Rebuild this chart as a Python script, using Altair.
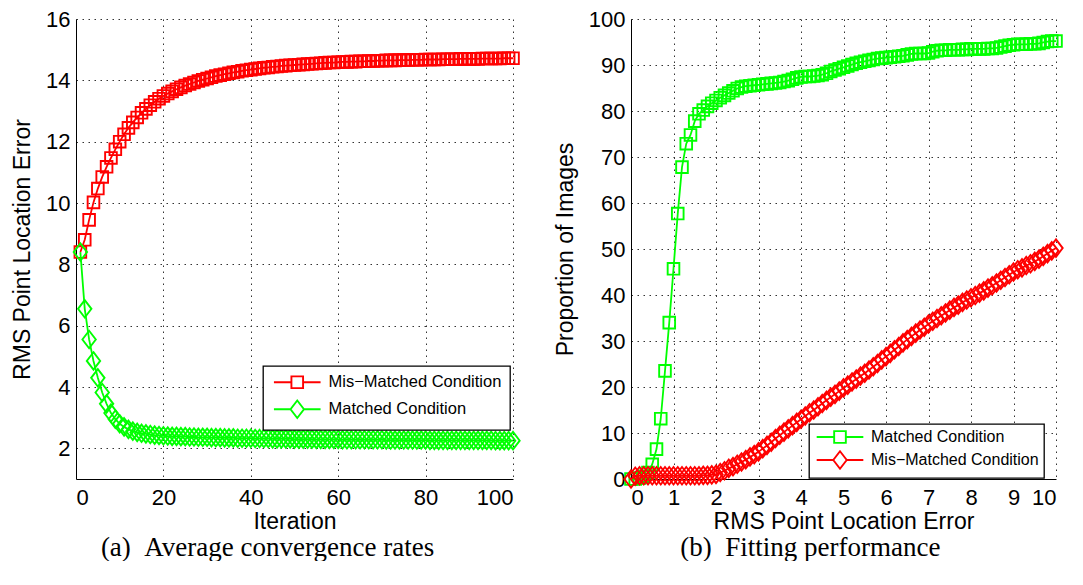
import altair as alt
import pandas as pd

# ---------------- data ----------------
iterations = list(range(1, 101))

mis_matched_a = [
    8.40, 8.80, 9.45, 10.02, 10.47, 10.85, 11.18, 11.47, 11.75, 12.00,
    12.24, 12.45, 12.63, 12.79, 12.94, 13.07, 13.19, 13.30, 13.40, 13.49,
    13.57, 13.64, 13.71, 13.77, 13.83, 13.88, 13.93, 13.98, 14.02, 14.06,
    14.10, 14.14, 14.17, 14.20, 14.23, 14.26, 14.28, 14.31, 14.33, 14.35,
    14.37, 14.39, 14.41, 14.42, 14.44, 14.45, 14.47, 14.48, 14.49, 14.50,
    14.51, 14.52, 14.53, 14.54, 14.55, 14.56, 14.57, 14.58, 14.58, 14.59,
    14.60, 14.60, 14.61, 14.61, 14.62, 14.62, 14.63, 14.63, 14.64, 14.64,
    14.65, 14.65, 14.65, 14.66, 14.66, 14.66, 14.67, 14.67, 14.67, 14.68,
    14.68, 14.68, 14.68, 14.69, 14.69, 14.69, 14.69, 14.70, 14.70, 14.70,
    14.70, 14.70, 14.71, 14.71, 14.71, 14.71, 14.71, 14.72, 14.72, 14.72,
]

matched_a = [
    8.40, 6.55, 5.55, 4.85, 4.30, 3.82, 3.45, 3.15, 2.95, 2.80,
    2.70, 2.62, 2.56, 2.52, 2.49, 2.47, 2.45, 2.43, 2.42, 2.41,
    2.40, 2.39, 2.39, 2.38, 2.38, 2.37, 2.37, 2.36, 2.36, 2.36,
    2.35, 2.35, 2.35, 2.34, 2.34, 2.34, 2.33, 2.33, 2.33, 2.33,
    2.32, 2.32, 2.32, 2.32, 2.31, 2.31, 2.31, 2.31, 2.31, 2.30,
    2.30, 2.30, 2.30, 2.30, 2.29, 2.29, 2.29, 2.29, 2.29, 2.29,
    2.28, 2.28, 2.28, 2.28, 2.28, 2.28, 2.28, 2.28, 2.28, 2.28,
    2.27, 2.27, 2.27, 2.27, 2.27, 2.27, 2.27, 2.27, 2.27, 2.27,
    2.26, 2.26, 2.26, 2.26, 2.26, 2.26, 2.26, 2.26, 2.26, 2.26,
    2.26, 2.26, 2.26, 2.26, 2.26, 2.25, 2.25, 2.25, 2.25, 2.25,
]

rms_error_b = [
    0.0, 0.1, 0.2, 0.3, 0.4, 0.5, 0.6, 0.7, 0.8, 0.9,
    1.0, 1.1, 1.2, 1.3, 1.4, 1.5, 1.6, 1.7, 1.8, 1.9,
    2.0, 2.1, 2.2, 2.3, 2.4, 2.5, 2.6, 2.7, 2.8, 2.9,
    3.0, 3.1, 3.2, 3.3, 3.4, 3.5, 3.6, 3.7, 3.8, 3.9,
    4.0, 4.1, 4.2, 4.3, 4.4, 4.5, 4.6, 4.7, 4.8, 4.9,
    5.0, 5.1, 5.2, 5.3, 5.4, 5.5, 5.6, 5.7, 5.8, 5.9,
    6.0, 6.1, 6.2, 6.3, 6.4, 6.5, 6.6, 6.7, 6.8, 6.9,
    7.0, 7.1, 7.2, 7.3, 7.4, 7.5, 7.6, 7.7, 7.8, 7.9,
    8.0, 8.1, 8.2, 8.3, 8.4, 8.5, 8.6, 8.7, 8.8, 8.9,
    9.0, 9.1, 9.2, 9.3, 9.4, 9.5, 9.6, 9.7, 9.8, 9.9,
    10.0,
]

matched_b = [
    0.0, 0.0, 0.2, 0.6, 1.4, 3.2, 6.5, 13.1, 23.5, 34.0,
    45.7, 57.7, 67.8, 72.9, 74.8, 77.8, 79.4, 80.2, 81.0, 81.7,
    82.3, 82.9, 83.4, 83.9, 84.4, 84.9, 85.2, 85.4, 85.5, 85.6,
    85.7, 85.8, 85.9, 86.0, 86.1, 86.2, 86.4, 86.6, 86.9, 87.2,
    87.4, 87.5, 87.5, 87.6, 87.7, 87.9, 88.2, 88.6, 88.9, 89.2,
    89.5, 89.8, 90.1, 90.4, 90.6, 90.8, 91.0, 91.2, 91.4, 91.5,
    91.6, 91.7, 91.8, 91.9, 92.0, 92.2, 92.4, 92.5, 92.5, 92.5,
    92.6, 92.9, 93.1, 93.2, 93.2, 93.3, 93.3, 93.3, 93.4, 93.4,
    93.5, 93.5, 93.5, 93.5, 93.6, 93.6, 93.7, 93.9, 94.1, 94.3,
    94.4, 94.5, 94.5, 94.5, 94.6, 94.6, 94.7, 94.9, 95.1, 95.2,
    95.2,
]

mis_matched_b = [
    0.0, 0.6, 0.7, 0.7, 0.7, 0.7, 0.7, 0.7, 0.7, 0.7,
    0.7, 0.7, 0.7, 0.7, 0.7, 0.7, 0.7, 0.8, 0.8, 0.9,
    1.0, 1.4, 1.8, 2.3, 2.7, 3.2, 3.7, 4.2, 4.8, 5.3,
    5.9, 6.6, 7.3, 8.0, 8.8, 9.5, 10.2, 10.9, 11.6, 12.3,
    13.0, 13.7, 14.4, 15.0, 15.7, 16.4, 17.1, 17.8, 18.4, 19.1,
    19.8, 20.4, 21.1, 21.7, 22.4, 23.0, 23.7, 24.4, 25.1, 25.9,
    26.6, 27.3, 28.1, 28.8, 29.6, 30.3, 31.0, 31.7, 32.4, 33.0,
    33.7, 34.3, 34.9, 35.5, 36.1, 36.7, 37.3, 37.8, 38.4, 38.9,
    39.4, 39.9, 40.4, 40.9, 41.5, 42.0, 42.6, 43.2, 43.8, 44.4,
    45.0, 45.5, 45.9, 46.4, 46.8, 47.3, 47.8, 48.4, 49.0, 49.6,
    50.2,
]

MIS = "Mis\u2212Matched Condition"
MAT = "Matched Condition"

x_ticks_a = [0, 20, 40, 60, 80, 100]
y_ticks_a = [2, 4, 6, 8, 10, 12, 14, 16]
x_ticks_b = [0, 1, 2, 3, 4, 5, 6, 7, 8, 9, 10]
y_ticks_b = [0, 10, 20, 30, 40, 50, 60, 70, 80, 90, 100]

RED = "#ff0000"
GREEN = "#00ff00"
SANS = "Liberation Sans"
SERIF = "Liberation Serif"

# marker shapes (custom paths scaled by sqrt(size)/2)
DIAMOND = "M0,-1.5L1.15,0L0,1.5L-1.15,0Z"
SQUARE_LEG = "M-4.0,0L-1,0M1,0L4.0,0M-1,-1L1,-1L1,1L-1,1Z"
DIAMOND_LEG = "M-4.0,0L-1.15,0M1.15,0L4.0,0M0,-1.5L1.15,0L0,1.5L-1.15,0Z"
MSIZE = 136

df_a = pd.DataFrame({
    "x": iterations * 2,
    "y": mis_matched_a + matched_a,
    "series": [MIS] * len(iterations) + [MAT] * len(iterations),
})
df_b = pd.DataFrame({
    "x": rms_error_b * 2,
    "y": matched_b + mis_matched_b,
    "series": [MAT] * len(rms_error_b) + [MIS] * len(rms_error_b),
})


def axis(values, title, title_pad, orient):
    return alt.Axis(
        values=values, title=title, grid=True, ticks=False, tickSize=0,
        labelFont=SANS, labelFontSize=22, labelColor="black",
        labelPadding=6 if orient == "left" else 8,
        titleFont=SANS, titleFontSize=23, titleFontWeight="normal",
        titleColor="black", titlePadding=title_pad,
        domainColor="black", domainWidth=1,
        gridColor="#333333", gridDash=[1.5, 4.5], gridWidth=1, gridOpacity=1,
        labelOverlap=False,
    )


def panel(df, order, colors, shapes, leg_shapes, xdom, ydom, xt, yt, xtitle, ytitle,
          w, h, leg_x, leg_y, leg_font, leg_rowpad, leg_pad, caption):
    xenc = alt.X("x:Q", scale=alt.Scale(domain=xdom, nice=False, zero=False),
                 axis=axis(xt, xtitle, 2, "bottom"))
    yenc = alt.Y("y:Q", scale=alt.Scale(domain=ydom, nice=False, zero=False),
                 axis=axis(yt, ytitle, 11, "left"))
    layers = []
    for name, col, shp in zip(order, colors, shapes):
        base = alt.Chart(df).transform_filter(alt.datum.series == name).encode(x=xenc, y=yenc)
        layers.append(base.mark_line(color=col, strokeWidth=1.8))
        layers.append(base.mark_point(color=col, shape=shp, filled=False, size=MSIZE,
                                      strokeWidth=1.9, opacity=1))
    leg = alt.Legend(
        title=None, orient="none", legendX=leg_x, legendY=leg_y,
        labelFont=SANS, labelFontSize=leg_font, labelColor="black", labelLimit=400,
        strokeColor="black", fillColor="white", padding=leg_pad,
        rowPadding=leg_rowpad, symbolSize=MSIZE, symbolStrokeWidth=1.9,
        symbolOffset=18, labelOffset=23,
    )
    legend_layer = alt.Chart(df).mark_point(filled=False, size=MSIZE, strokeWidth=1.9, opacity=1).encode(
        x=xenc, y=yenc,
        color=alt.Color("series:N", scale=alt.Scale(domain=order, range=colors), legend=leg),
        shape=alt.Shape("series:N", scale=alt.Scale(domain=order, range=leg_shapes), legend=leg),
    ).transform_filter("false")
    layers.append(legend_layer)
    return alt.layer(*layers).properties(
        width=w, height=h,
        title=alt.TitleParams(text=caption, orient="bottom", font=SERIF, fontSize=27,
                              fontWeight="normal", color="black", offset=2, anchor="middle",
                              frame="bounds"),
    )


left = panel(df_a, [MIS, MAT], [RED, GREEN], ["square", DIAMOND], [SQUARE_LEG, DIAMOND_LEG],
             [0, 100], [1, 16], x_ticks_a, y_ticks_a, "Iteration", "RMS Point Location Error",
             437, 460, 187, 347, 16.5, 4, 8, "(a)\u00a0\u00a0Average convergence rates")
right = panel(df_b, [MAT, MIS], [GREEN, RED], ["square", DIAMOND], [SQUARE_LEG, DIAMOND_LEG],
              [0, 10], [0, 100], x_ticks_b, y_ticks_b, "RMS Point Location Error", "Proportion of Images",
              425, 460, 178, 405, 16, 0, 5, "(b)\u00a0\u00a0Fitting performance")

chart = alt.hconcat(left, right, spacing=30).resolve_scale(
    color="independent", shape="independent"
).resolve_legend(
    color="independent", shape="independent"
).properties(
    padding={"left": 3, "top": 0, "right": 0, "bottom": 0}
).configure_view(strokeWidth=0).configure_legend(strokeWidth=1.3)

chart.save("out.html", embed_options={"renderer": "svg", "actions": False})
